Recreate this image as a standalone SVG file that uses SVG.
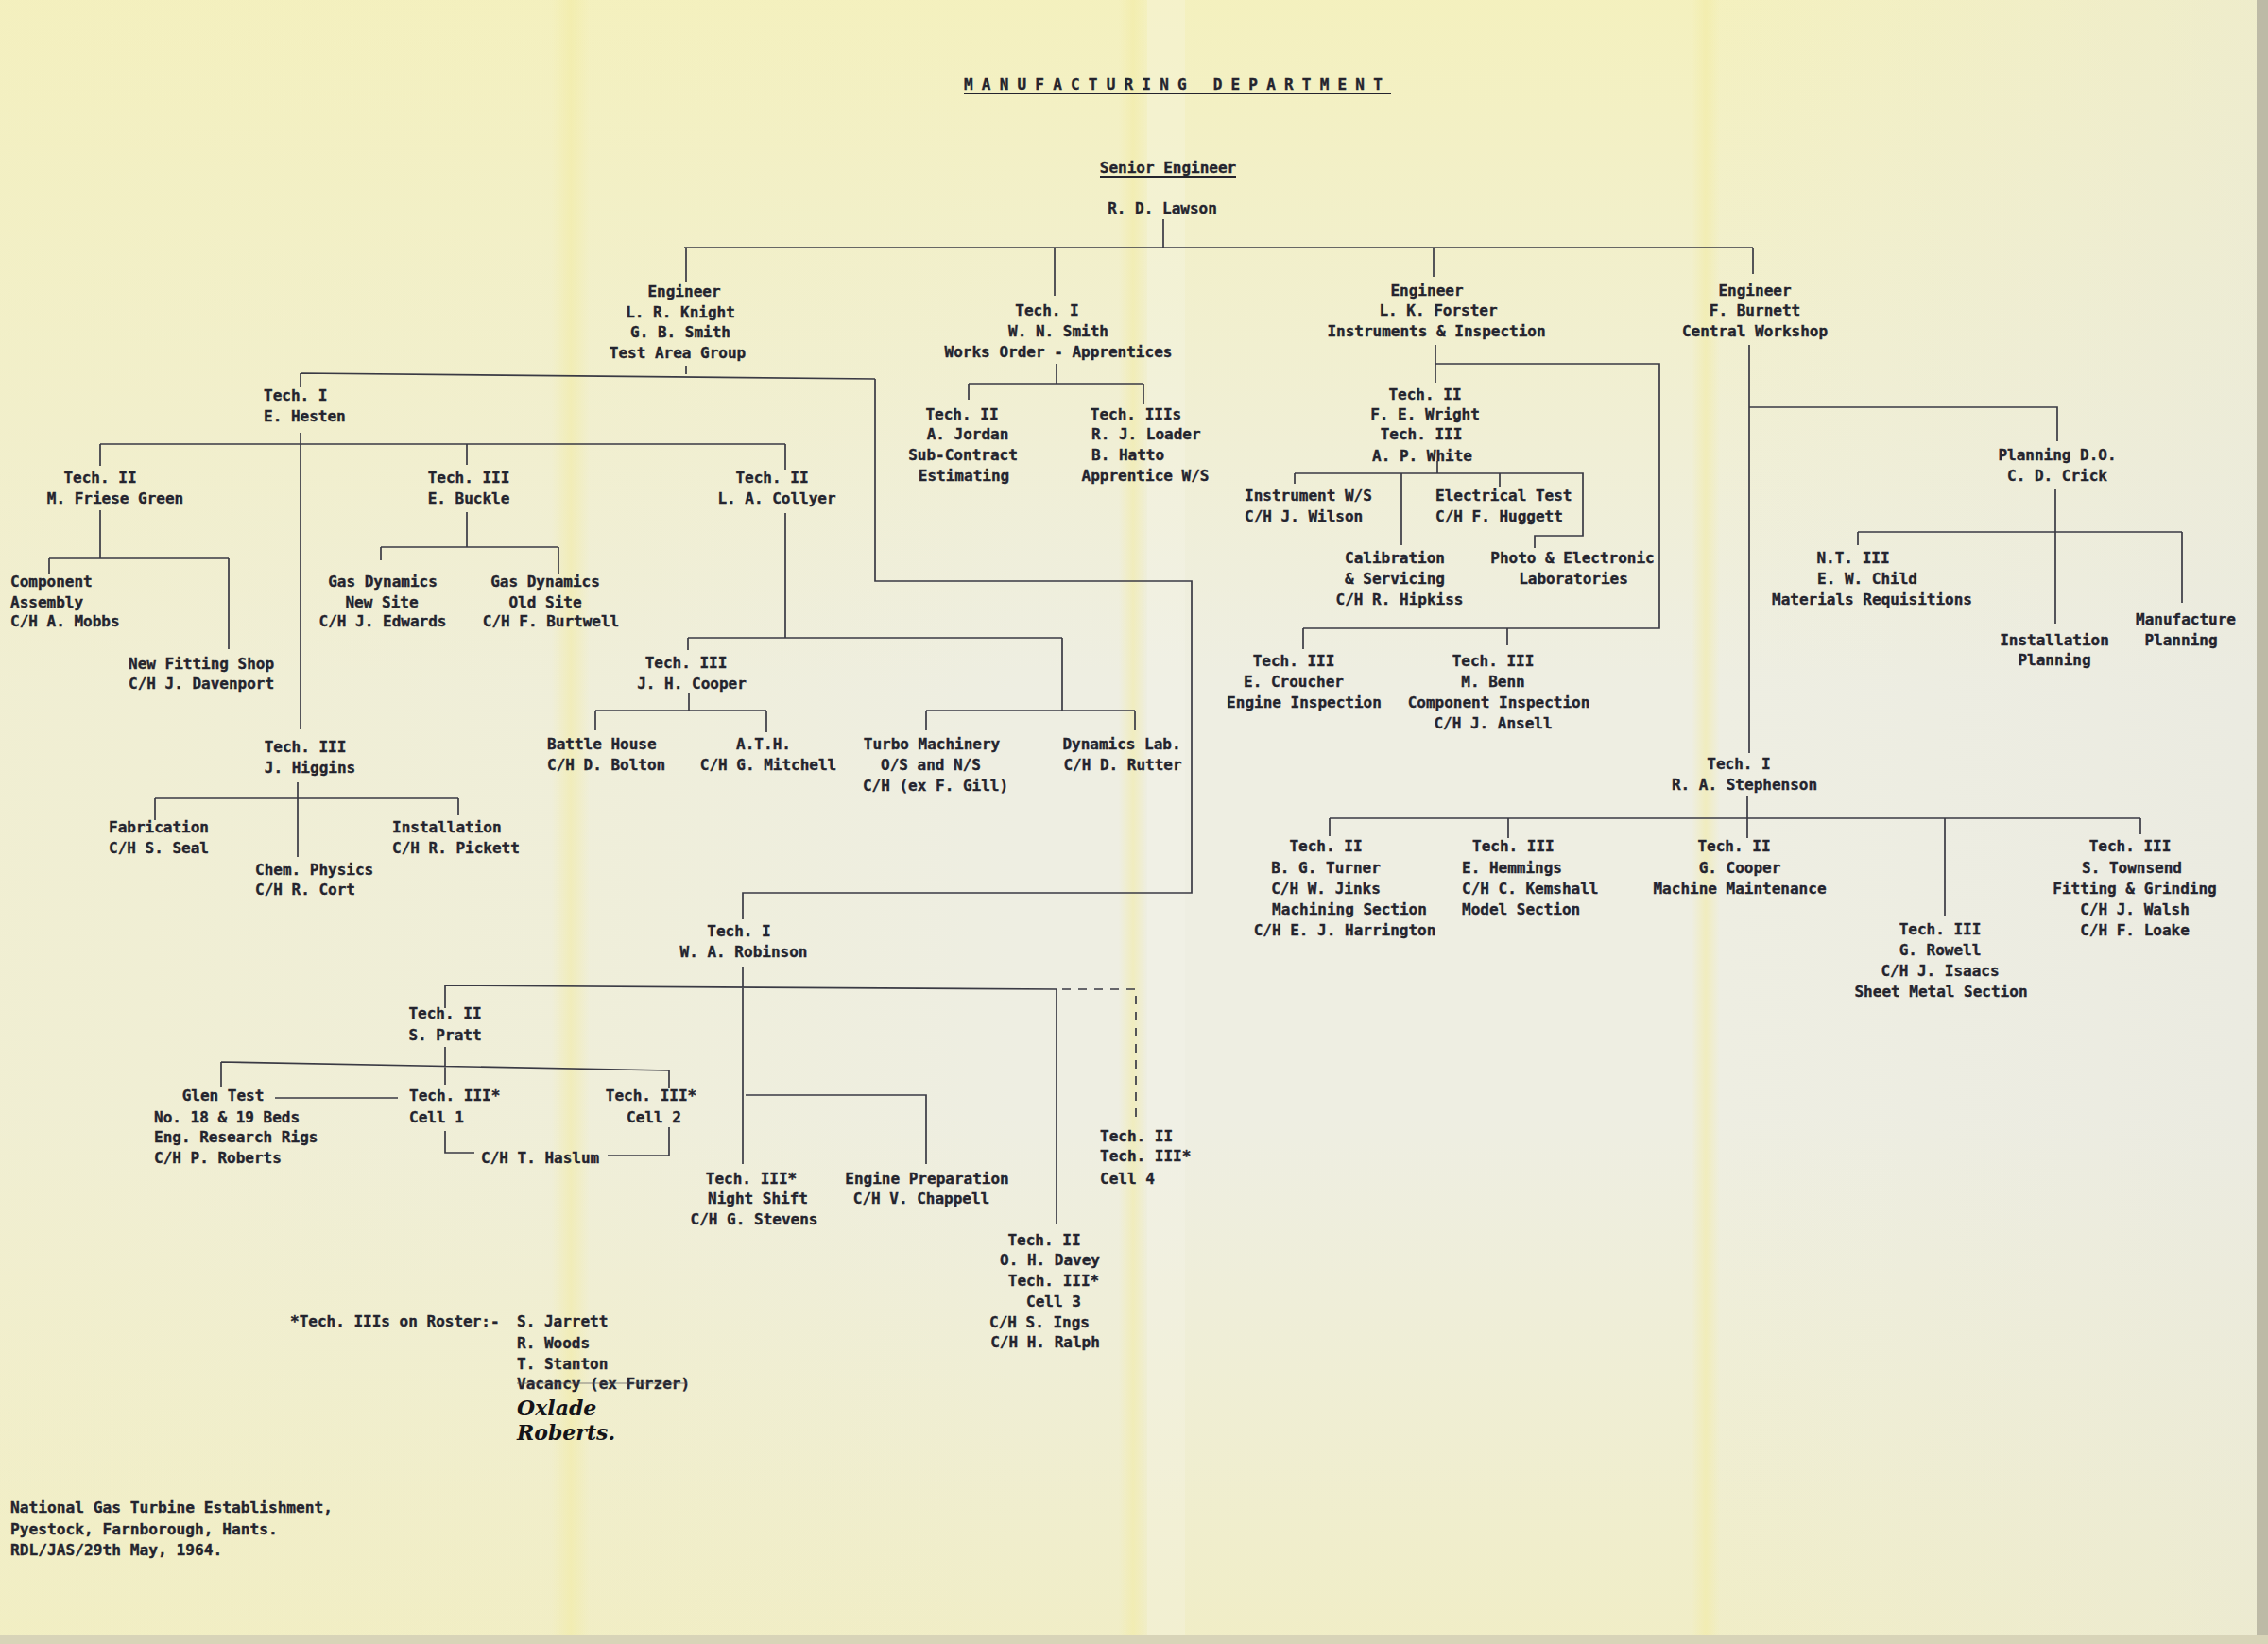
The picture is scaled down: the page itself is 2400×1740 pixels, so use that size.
<svg xmlns="http://www.w3.org/2000/svg" width="2400" height="1740" viewBox="0 0 2400 1740">
<defs>
<linearGradient id="gTop" x1="0" y1="0" x2="0" y2="1">
<stop offset="0" stop-color="#f5f1b8" stop-opacity="0.85"/>
<stop offset="0.2" stop-color="#f5f1b8" stop-opacity="0.45"/>
<stop offset="0.42" stop-color="#f5f1b8" stop-opacity="0"/>
<stop offset="0.68" stop-color="#f3efb6" stop-opacity="0"/>
<stop offset="1" stop-color="#f2edb4" stop-opacity="0.6"/>
</linearGradient>
<linearGradient id="gSide" x1="0" y1="0" x2="1" y2="0">
<stop offset="0" stop-color="#f3efbf" stop-opacity="0.45"/>
<stop offset="0.25" stop-color="#f3efbf" stop-opacity="0.25"/>
<stop offset="0.45" stop-color="#f3efbf" stop-opacity="0"/>
<stop offset="0.75" stop-color="#e9e9e2" stop-opacity="0"/>
<stop offset="1" stop-color="#e6e6df" stop-opacity="0.4"/>
</linearGradient>
<linearGradient id="gFold" x1="0" y1="0" x2="1" y2="0">
<stop offset="0" stop-color="#f2eba2" stop-opacity="0"/>
<stop offset="0.5" stop-color="#f2eba2" stop-opacity="0.55"/>
<stop offset="1" stop-color="#f2eba2" stop-opacity="0"/>
</linearGradient>
<style>
.t{font-family:"DejaVu Sans Mono","Liberation Mono",monospace;font-size:16px;font-weight:bold;fill:#24242e;stroke:#24242e;stroke-width:0.35}
.c{text-anchor:middle}
.f{font-size:16.2px}
.h{font-family:"DejaVu Serif","Liberation Serif",serif;font-style:italic;font-weight:bold;font-size:22px;fill:#141418}
.ln{stroke:#3a3a44;stroke-width:1.7;fill:none}
.dash{stroke-dasharray:9 8}
.ul{stroke:#24242e;stroke-width:2.2}
</style>
</defs>
<g id="paper">
<rect x="0" y="0" width="2400" height="1740" fill="#eeeee2"/>
<rect x="0" y="0" width="2400" height="1740" fill="url(#gTop)"/>
<rect x="0" y="0" width="2400" height="1740" fill="url(#gSide)"/>
<rect x="584" y="0" width="40" height="1740" fill="url(#gFold)"/>
<rect x="1184" y="0" width="30" height="1740" fill="url(#gFold)"/>
<rect x="1214" y="0" width="40" height="1740" fill="#f6f6f0" opacity="0.25"/>
<rect x="1790" y="0" width="30" height="1740" fill="url(#gFold)"/>
<rect x="2388" y="0" width="12" height="1740" fill="#bdbaa6"/>
<rect x="0" y="1730" width="2400" height="10" fill="#d8d4b8"/>
</g>
<g id="connectors">
<path class="ln" d="M1231 232V262M724 262H1855M726 262V298M1116 262V313M1517 262V293M1855 262V290"/>
<path class="ln" d="M726 387V396M318 395L926 401M318 395V410M926 401V615H1261V945H786V973"/>
<path class="ln" d="M318 458V772M106 470H831M106 470V493M494 470V492M831 470V497"/>
<path class="ln" d="M106 540V591M52 591H242M52 591V607M242 591V687"/>
<path class="ln" d="M494 542V579M403 579H591M403 579V593M591 579V607"/>
<path class="ln" d="M831 543V675M728 675H1124M728 675V688M1124 675V752M980 752H1201M980 752V773M1201 752V773"/>
<path class="ln" d="M729 733V752M630 752H811M630 752V773M811 752V775"/>
<path class="ln" d="M315 828V907M164 845H485M164 845V868M485 845V863"/>
<path class="ln" d="M786 1023V1232M471 1043L1118 1047M1118 1047V1295M471 1043V1067M789 1159H980V1232"/>
<path class="ln dash" d="M1124 1047H1202V1185"/>
<path class="ln" d="M471 1108V1148M234 1124L708 1133M234 1124V1150M708 1133V1152M291 1162H421"/>
<path class="ln" d="M471 1197V1220H502M643 1223H708V1193"/>
<path class="ln" d="M1118 385V406M1025 406H1210M1025 406V423M1210 406V428"/>
<path class="ln" d="M1519 365V405M1519 385H1756V665H1379M1379 665V687M1595 665V683"/>
<path class="ln" d="M1521 488V501M1370 501H1675V567H1624V580M1370 501V512M1483 501V577M1587 501V515"/>
<path class="ln" d="M1851 365V797M1851 431H2177V467M2175 518V660M1966 563H2309M1966 563V577M2309 563V638"/>
<path class="ln" d="M1849 842V887M1407 866H2265M1407 866V885M1596 866V887M2058 866V970M2265 866V883"/>
</g>
<g id="title">
<text class="t" x="1020" y="95" style="letter-spacing:9.2px">MANUFACTURING DEPARTMENT</text>
<path class="ul" d="M1020 99H1472"/>
</g>
<g id="senior-engineer">
<text class="t c" x="1236" y="183">Senior Engineer</text>
<path class="ul" d="M1164 187H1308"/>
<text class="t c" x="1230" y="226">R. D. Lawson</text>
</g>
<g id="knight">
<text class="t c" x="724" y="314">Engineer</text>
<text class="t c" x="720" y="336">L. R. Knight</text>
<text class="t c" x="720" y="357">G. B. Smith</text>
<text class="t c" x="717" y="379">Test Area Group</text>
</g>
<g id="wnsmith">
<text class="t c" x="1108" y="334">Tech. I</text>
<text class="t c" x="1120" y="356">W. N. Smith</text>
<text class="t c" x="1120" y="378">Works Order - Apprentices</text>
</g>
<g id="forster">
<text class="t c" x="1510" y="313">Engineer</text>
<text class="t c" x="1522" y="334">L. K. Forster</text>
<text class="t c" x="1520" y="356">Instruments &amp; Inspection</text>
</g>
<g id="burnett">
<text class="t c" x="1857" y="313">Engineer</text>
<text class="t c" x="1857" y="334">F. Burnett</text>
<text class="t c" x="1857" y="356">Central Workshop</text>
</g>
<g id="hesten">
<text class="t" x="279" y="424">Tech. I</text>
<text class="t" x="279" y="446">E. Hesten</text>
</g>
<g id="friese-green">
<text class="t c" x="106" y="511">Tech. II</text>
<text class="t c" x="122" y="533">M. Friese Green</text>
</g>
<g id="component-assembly">
<text class="t" x="11" y="621">Component</text>
<text class="t" x="11" y="643">Assembly</text>
<text class="t" x="11" y="663">C/H A. Mobbs</text>
</g>
<g id="new-fitting-shop">
<text class="t" x="136" y="708">New Fitting Shop</text>
<text class="t" x="136" y="729">C/H J. Davenport</text>
</g>
<g id="buckle">
<text class="t c" x="496" y="511">Tech. III</text>
<text class="t c" x="496" y="533">E. Buckle</text>
</g>
<g id="gas-new">
<text class="t c" x="405" y="621">Gas Dynamics</text>
<text class="t c" x="404" y="643">New Site</text>
<text class="t c" x="405" y="663">C/H J. Edwards</text>
</g>
<g id="gas-old">
<text class="t c" x="577" y="621">Gas Dynamics</text>
<text class="t c" x="577" y="643">Old Site</text>
<text class="t c" x="583" y="663">C/H F. Burtwell</text>
</g>
<g id="collyer">
<text class="t c" x="817" y="511">Tech. II</text>
<text class="t c" x="822" y="533">L. A. Collyer</text>
</g>
<g id="jh-cooper">
<text class="t c" x="726" y="707">Tech. III</text>
<text class="t c" x="732" y="729">J. H. Cooper</text>
</g>
<g id="battle-house">
<text class="t" x="579" y="793">Battle House</text>
<text class="t" x="579" y="815">C/H D. Bolton</text>
</g>
<g id="ath">
<text class="t c" x="808" y="793">A.T.H.</text>
<text class="t c" x="813" y="815">C/H G. Mitchell</text>
</g>
<g id="turbo">
<text class="t c" x="986" y="793">Turbo Machinery</text>
<text class="t c" x="985" y="815">O/S and N/S</text>
<text class="t c" x="990" y="837">C/H (ex F. Gill)</text>
</g>
<g id="dynamics-lab">
<text class="t c" x="1187" y="793">Dynamics Lab.</text>
<text class="t c" x="1188" y="815">C/H D. Rutter</text>
</g>
<g id="higgins">
<text class="t c" x="323" y="796">Tech. III</text>
<text class="t c" x="328" y="818">J. Higgins</text>
</g>
<g id="fabrication">
<text class="t" x="115" y="881">Fabrication</text>
<text class="t" x="115" y="903">C/H S. Seal</text>
</g>
<g id="installation">
<text class="t" x="415" y="881">Installation</text>
<text class="t" x="415" y="903">C/H R. Pickett</text>
</g>
<g id="chem-physics">
<text class="t" x="270" y="926">Chem. Physics</text>
<text class="t" x="270" y="947">C/H R. Cort</text>
</g>
<g id="robinson">
<text class="t c" x="782" y="991">Tech. I</text>
<text class="t c" x="787" y="1013">W. A. Robinson</text>
</g>
<g id="pratt">
<text class="t c" x="471" y="1078">Tech. II</text>
<text class="t c" x="471" y="1101">S. Pratt</text>
</g>
<g id="glen-test">
<text class="t c" x="236" y="1165">Glen Test</text>
<text class="t" x="163" y="1188">No. 18 &amp; 19 Beds</text>
<text class="t" x="163" y="1209">Eng. Research Rigs</text>
<text class="t" x="163" y="1231">C/H P. Roberts</text>
</g>
<g id="cell1">
<text class="t" x="433" y="1165">Tech. III*</text>
<text class="t" x="433" y="1188">Cell 1</text>
</g>
<g id="cell2">
<text class="t c" x="689" y="1165">Tech. III*</text>
<text class="t c" x="692" y="1188">Cell 2</text>
</g>
<g id="haslum">
<text class="t" x="509" y="1231">C/H T. Haslum</text>
</g>
<g id="night-shift">
<text class="t c" x="795" y="1253">Tech. III*</text>
<text class="t c" x="802" y="1274">Night Shift</text>
<text class="t c" x="798" y="1296">C/H G. Stevens</text>
</g>
<g id="engine-prep">
<text class="t c" x="981" y="1253">Engine Preparation</text>
<text class="t c" x="975" y="1274">C/H V. Chappell</text>
</g>
<g id="cell4">
<text class="t" x="1164" y="1208">Tech. II</text>
<text class="t" x="1164" y="1229">Tech. III*</text>
<text class="t" x="1164" y="1253">Cell 4</text>
</g>
<g id="davey">
<text class="t c" x="1105" y="1318">Tech. II</text>
<text class="t c" x="1111" y="1339">O. H. Davey</text>
<text class="t c" x="1115" y="1361">Tech. III*</text>
<text class="t c" x="1115" y="1383">Cell 3</text>
<text class="t c" x="1100" y="1405">C/H S. Ings</text>
<text class="t c" x="1106" y="1426">C/H H. Ralph</text>
</g>
<g id="roster">
<text class="t" x="307" y="1404">*Tech. IIIs on Roster:-</text>
<text class="t" x="547" y="1404">S. Jarrett</text>
<text class="t" x="547" y="1427">R. Woods</text>
<text class="t" x="547" y="1449">T. Stanton</text>
<text class="t" x="547" y="1470">Vacancy (ex Furzer)</text>
<path d="M547 1464H727" stroke="#55555c" stroke-width="1" opacity="0.7"/>
<text class="h" x="547" y="1498">Oxlade</text>
<text class="h" x="547" y="1524">Roberts.</text>
</g>
<g id="jordan">
<text class="t c" x="1018" y="444">Tech. II</text>
<text class="t c" x="1024" y="465">A. Jordan</text>
<text class="t c" x="1019" y="487">Sub-Contract</text>
<text class="t c" x="1020" y="509">Estimating</text>
</g>
<g id="loader">
<text class="t c" x="1202" y="444">Tech. IIIs</text>
<text class="t" x="1155" y="465">R. J. Loader</text>
<text class="t" x="1155" y="487">B. Hatto</text>
<text class="t c" x="1212" y="509">Apprentice W/S</text>
</g>
<g id="wright">
<text class="t c" x="1508" y="423">Tech. II</text>
<text class="t c" x="1508" y="444">F. E. Wright</text>
<text class="t c" x="1504" y="465">Tech. III</text>
<text class="t c" x="1505" y="488">A. P. White</text>
</g>
<g id="instrument-ws">
<text class="t" x="1317" y="530">Instrument W/S</text>
<text class="t" x="1317" y="552">C/H J. Wilson</text>
</g>
<g id="electrical-test">
<text class="t" x="1519" y="530">Electrical Test</text>
<text class="t" x="1519" y="552">C/H F. Huggett</text>
</g>
<g id="calibration">
<text class="t c" x="1476" y="596">Calibration</text>
<text class="t c" x="1476" y="618">&amp; Servicing</text>
<text class="t c" x="1481" y="640">C/H R. Hipkiss</text>
</g>
<g id="photo-lab">
<text class="t c" x="1664" y="596">Photo &amp; Electronic</text>
<text class="t c" x="1665" y="618">Laboratories</text>
</g>
<g id="croucher">
<text class="t c" x="1369" y="705">Tech. III</text>
<text class="t c" x="1369" y="727">E. Croucher</text>
<text class="t c" x="1380" y="749">Engine Inspection</text>
</g>
<g id="benn">
<text class="t c" x="1580" y="705">Tech. III</text>
<text class="t c" x="1580" y="727">M. Benn</text>
<text class="t c" x="1586" y="749">Component Inspection</text>
<text class="t c" x="1580" y="771">C/H J. Ansell</text>
</g>
<g id="crick">
<text class="t c" x="2177" y="487">Planning D.O.</text>
<text class="t c" x="2177" y="509">C. D. Crick</text>
</g>
<g id="child">
<text class="t c" x="1961" y="596">N.T. III</text>
<text class="t c" x="1976" y="618">E. W. Child</text>
<text class="t c" x="1981" y="640">Materials Requisitions</text>
</g>
<g id="installation-planning">
<text class="t c" x="2174" y="683">Installation</text>
<text class="t c" x="2174" y="704">Planning</text>
</g>
<g id="manufacture-planning">
<text class="t c" x="2313" y="661">Manufacture</text>
<text class="t c" x="2308" y="683">Planning</text>
</g>
<g id="stephenson">
<text class="t c" x="1840" y="814">Tech. I</text>
<text class="t c" x="1846" y="836">R. A. Stephenson</text>
</g>
<g id="turner">
<text class="t c" x="1403" y="901">Tech. II</text>
<text class="t c" x="1403" y="924">B. G. Turner</text>
<text class="t c" x="1403" y="946">C/H W. Jinks</text>
<text class="t c" x="1428" y="968">Machining Section</text>
<text class="t c" x="1423" y="990">C/H E. J. Harrington</text>
</g>
<g id="hemmings">
<text class="t" x="1558" y="901">Tech. III</text>
<text class="t" x="1547" y="924">E. Hemmings</text>
<text class="t" x="1547" y="946">C/H C. Kemshall</text>
<text class="t" x="1547" y="968">Model Section</text>
</g>
<g id="g-cooper">
<text class="t c" x="1835" y="901">Tech. II</text>
<text class="t c" x="1841" y="924">G. Cooper</text>
<text class="t c" x="1841" y="946">Machine Maintenance</text>
</g>
<g id="rowell">
<text class="t c" x="2053" y="989">Tech. III</text>
<text class="t c" x="2053" y="1011">G. Rowell</text>
<text class="t c" x="2053" y="1033">C/H J. Isaacs</text>
<text class="t c" x="2054" y="1055">Sheet Metal Section</text>
</g>
<g id="townsend">
<text class="t c" x="2254" y="901">Tech. III</text>
<text class="t c" x="2256" y="924">S. Townsend</text>
<text class="t c" x="2259" y="946">Fitting &amp; Grinding</text>
<text class="t c" x="2259" y="968">C/H J. Walsh</text>
<text class="t c" x="2259" y="990">C/H F. Loake</text>
</g>
<g id="footer">
<text class="t f" x="11" y="1601">National Gas Turbine Establishment,</text>
<text class="t f" x="11" y="1624">Pyestock, Farnborough, Hants.</text>
<text class="t f" x="11" y="1646">RDL/JAS/29th May, 1964.</text>
</g>
</svg>
